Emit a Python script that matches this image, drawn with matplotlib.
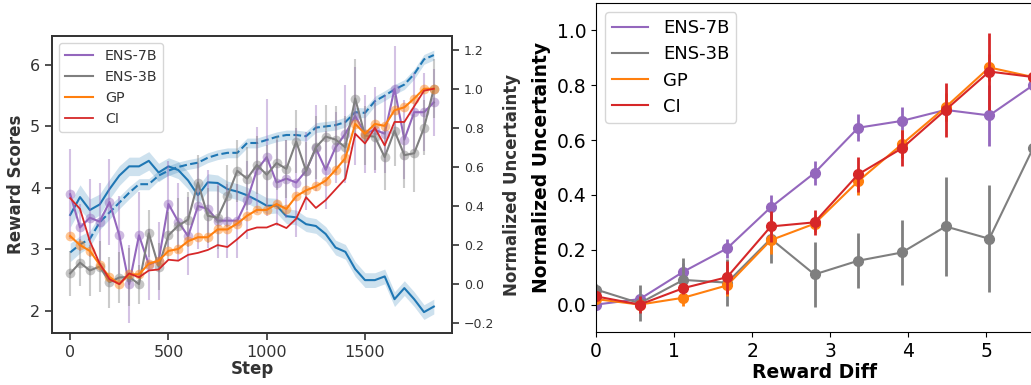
import matplotlib.pyplot as plt
import numpy as np

# ---- left panel: reward / uncertainty over training steps ----
steps = np.arange(0, 1900, 50)

reward_solid = [3.56, 3.85, 3.64, 3.73, 3.98, 4.2, 4.35, 4.35, 4.44, 4.25, 4.35, 4.29, 4.12,
                3.88, 4.09, 4.08, 3.98, 3.94, 3.88, 3.80, 3.71, 3.71, 3.54, 3.52, 3.41, 3.38,
                3.25, 3.03, 2.96, 2.68, 2.50, 2.50, 2.56, 2.19, 2.37, 2.19, 1.98, 2.07]
reward_solid_band = [0.2, 0.2, 0.18, 0.17, 0.16, 0.16, 0.15, 0.15, 0.15, 0.15, 0.14, 0.14, 0.14,
                     0.14, 0.14, 0.13, 0.13, 0.13, 0.13, 0.13, 0.13, 0.12, 0.12, 0.12, 0.12, 0.12,
                     0.12, 0.12, 0.12, 0.12, 0.12, 0.12, 0.12, 0.12, 0.12, 0.12, 0.12, 0.12]
reward_dash = [2.95, 3.08, 3.17, 3.44, 3.6, 3.76, 3.92, 4.06, 4.06, 4.2, 4.28, 4.34, 4.38,
               4.41, 4.49, 4.54, 4.57, 4.57, 4.73, 4.73, 4.78, 4.83, 4.86, 4.86, 4.84, 4.98,
               5.0, 5.02, 5.07, 5.23, 5.22, 5.41, 5.5, 5.6, 5.68, 5.85, 6.09, 6.16]
reward_dash_band = [0.15, 0.14, 0.13, 0.12, 0.11, 0.1, 0.1, 0.09, 0.09, 0.08, 0.08, 0.08, 0.08,
                    0.08, 0.08, 0.08, 0.08, 0.08, 0.08, 0.08, 0.08, 0.08, 0.08, 0.08, 0.08, 0.08,
                    0.08, 0.08, 0.08, 0.08, 0.08, 0.08, 0.08, 0.08, 0.08, 0.08, 0.08, 0.08]

ens7b = [0.46, 0.29, 0.34, 0.32, 0.42, 0.25, 0.0, 0.25, 0.10, 0.12, 0.41, 0.32, 0.245,
         0.40, 0.385, 0.325, 0.325, 0.325, 0.43, 0.585, 0.65, 0.52, 0.54, 0.52, 0.58, 0.695,
         0.585, 0.70, 0.77, 0.86, 0.77, 0.79, 0.77, 1.0, 0.74, 0.88, 0.88, 0.93]
ens7b_err = [0.23, 0.12, 0.2, 0.2, 0.22, 0.2, 0.2, 0.22, 0.18, 0.2, 0.22, 0.2, 0.2,
             0.22, 0.2, 0.19, 0.19, 0.19, 0.2, 0.22, 0.3, 0.22, 0.2, 0.28, 0.2, 0.22,
             0.2, 0.18, 0.25, 0.25, 0.2, 0.22, 0.2, 0.22, 0.2, 0.2, 0.2, 0.17]
ens3b = [0.055, 0.11, 0.07, 0.09, 0.01, 0.034, 0.037, 0.0, 0.26, 0.09, 0.25, 0.30, 0.33,
         0.52, 0.35, 0.34, 0.45, 0.58, 0.54, 0.61, 0.56, 0.62, 0.59, 0.73, 0.58, 0.70,
         0.755, 0.74, 0.70, 0.95, 0.76, 0.755, 0.65, 0.785, 0.66, 0.67, 0.80, 1.0]
ens3b_err = [0.115, 0.12, 0.13, 0.13, 0.13, 0.13, 0.15, 0.1, 0.12, 0.12, 0.12, 0.14, 0.14,
             0.14, 0.14, 0.16, 0.16, 0.16, 0.16, 0.15, 0.15, 0.14, 0.15, 0.16, 0.15, 0.16,
             0.16, 0.17, 0.16, 0.2, 0.15, 0.17, 0.17, 0.18, 0.17, 0.2, 0.14, 0.15]
gp = [0.246, 0.20, 0.17, 0.10, 0.037, 0.0, 0.05, 0.05, 0.105, 0.12, 0.17, 0.18, 0.22,
      0.24, 0.24, 0.28, 0.28, 0.31, 0.35, 0.38, 0.38, 0.41, 0.385, 0.45, 0.48, 0.50,
      0.53, 0.585, 0.645, 0.82, 0.77, 0.82, 0.81, 0.89, 0.905, 0.95, 1.0, 1.0]
ci = [0.44, 0.385, 0.22, 0.105, 0.025, 0.0, 0.055, 0.035, 0.07, 0.075, 0.125, 0.12, 0.15,
      0.16, 0.175, 0.20, 0.19, 0.23, 0.275, 0.29, 0.29, 0.31, 0.287, 0.335, 0.445, 0.39,
      0.43, 0.485, 0.54, 0.77, 0.72, 0.80, 0.71, 0.83, 0.83, 0.91, 0.99, 1.0]

# ---- right panel: uncertainty vs reward difference ----
reward_diff = [0, 0.56, 1.12, 1.68, 2.24, 2.8, 3.36, 3.92, 4.48, 5.04, 5.6]
r_ens7b = [0.0, 0.02, 0.12, 0.205, 0.355, 0.48, 0.645, 0.67, 0.71, 0.69, 0.80]
r_ens7b_err = [0.005, 0.01, 0.03, 0.035, 0.045, 0.045, 0.05, 0.05, 0.04, 0.11, 0.05]
r_ens3b = [0.055, 0.005, 0.09, 0.08, 0.24, 0.11, 0.16, 0.19, 0.285, 0.24, 0.57]
r_ens3b_err = [0.02, 0.065, 0.08, 0.085, 0.09, 0.12, 0.1, 0.12, 0.18, 0.195, 0.2]
r_gp = [0.02, 0.0, 0.025, 0.07, 0.235, 0.295, 0.45, 0.585, 0.72, 0.865, 0.83]
r_gp_err = [0.01, 0.01, 0.03, 0.04, 0.05, 0.03, 0.05, 0.05, 0.05, 0.05, 0.05]
r_ci = [0.03, 0.0, 0.06, 0.10, 0.285, 0.30, 0.475, 0.57, 0.71, 0.85, 0.83]
r_ci_err = [0.01, 0.03, 0.02, 0.06, 0.055, 0.045, 0.065, 0.065, 0.1, 0.14, 0.05]

purple, gray, orange, red, blue = '#9467bd', '#7f7f7f', '#ff7f0e', '#d62728', '#1f77b4'
dark = '#333333'

fig = plt.figure(figsize=(10.31, 3.85), dpi=100)

# left panel
ax1 = fig.add_axes([52 / 1031, 52 / 385, 400 / 1031, 297 / 385])
ax1.fill_between(steps, np.array(reward_solid) - reward_solid_band,
                 np.array(reward_solid) + reward_solid_band, color=blue, alpha=0.22, lw=0)
ax1.plot(steps, reward_solid, color=blue, lw=1.5)
ax1.fill_between(steps, np.array(reward_dash) - reward_dash_band,
                 np.array(reward_dash) + reward_dash_band, color=blue, alpha=0.22, lw=0)
ax1.plot(steps, reward_dash, color=blue, lw=1.5, ls='--')
ax1.set_ylim(1.64, 6.47)
ax1.set_yticks([2, 3, 4, 5, 6])
ax1.set_xticks([0, 500, 1000, 1500])
ax1.set_xlabel('Step', fontsize=12, fontweight='bold', color=dark, labelpad=0)
ax1.set_ylabel('Reward Scores', fontsize=12, fontweight='bold', color=dark, labelpad=4)

ax2 = ax1.twinx()
for vals, err, c, lab in [(ens7b, ens7b_err, purple, 'ENS-7B'), (ens3b, ens3b_err, gray, 'ENS-3B')]:
    ax2.errorbar(steps, vals, yerr=err, fmt='none', ecolor=c, alpha=0.4, elinewidth=1.5)
    ax2.plot(steps, vals, 'o', color=c, alpha=0.45, ms=7, mec='none')
    ax2.plot(steps, vals, color=c, lw=1.5, label=lab)
ax2.plot(steps, gp, 'o', color=orange, alpha=0.45, ms=7, mec='none')
ax2.plot(steps, gp, color=orange, lw=1.5, label='GP')
ax2.plot(steps, ci, color=red, lw=1.3, label='CI')
ax2.set_ylim(-0.25, 1.27)
ax2.set_yticks([-0.2, 0.0, 0.2, 0.4, 0.6, 0.8, 1.0, 1.2])
ax2.set_ylabel('Normalized Uncertainty', fontsize=12, fontweight='bold', color=dark, labelpad=6)
ax2.legend(loc='upper left', fontsize=10.3, labelcolor=dark)

ax1.set_xlim(-92.5, 1942.5)
for ax, fs in [(ax1, 11.5), (ax2, 9)]:
    for s in ax.spines.values():
        s.set_color(dark)
        s.set_linewidth(1.25)
    ax.tick_params(colors=dark, labelsize=fs, length=5, width=1.2)

# right panel
ax3 = fig.add_axes([596 / 1031, 53 / 385, 437 / 1031, 329 / 385])
for vals, err, c, lab in [(r_ens7b, r_ens7b_err, purple, 'ENS-7B'), (r_ens3b, r_ens3b_err, gray, 'ENS-3B'),
                          (r_gp, r_gp_err, orange, 'GP'), (r_ci, r_ci_err, red, 'CI')]:
    ax3.errorbar(reward_diff, vals, yerr=err, fmt='none', ecolor=c, elinewidth=2)
    ax3.plot(reward_diff, vals, 'o', color=c, ms=7)
    ax3.plot(reward_diff, vals, color=c, lw=1.5, label=lab)
ax3.set_xlim(0, 5.6)
ax3.set_ylim(-0.1, 1.1)
ax3.set_yticks([0.0, 0.2, 0.4, 0.6, 0.8, 1.0])
ax3.set_xticks([0, 1, 2, 3, 4, 5])
ax3.tick_params(labelsize=13.5)
ax3.set_xlabel('Reward Diff', fontsize=13.5, fontweight='bold', labelpad=2)
ax3.set_ylabel('Normalized Uncertainty', fontsize=13.5, fontweight='bold', labelpad=4)
ax3.legend(loc='upper left', fontsize=13, labelspacing=0.45)

fig.savefig('out.png', dpi=100)
